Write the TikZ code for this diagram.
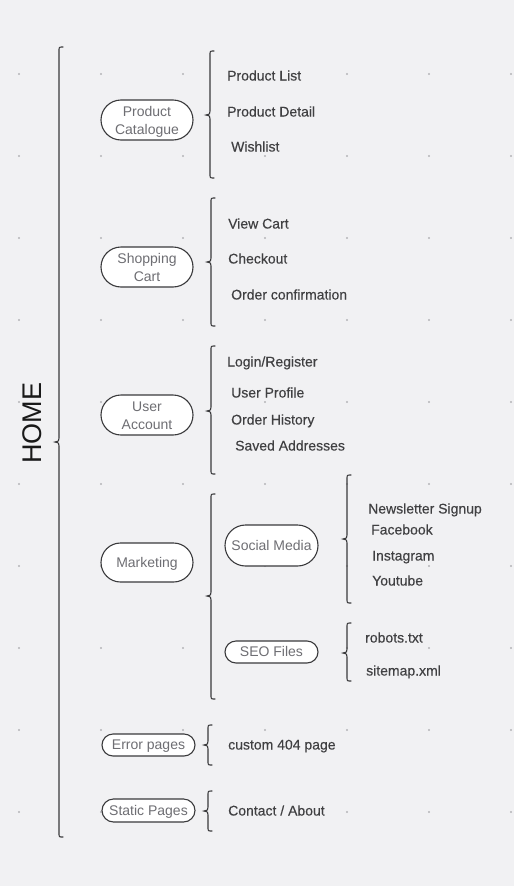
\documentclass[tikz,border=0pt]{standalone}
\usepackage{fontspec}
\setmainfont{Liberation Sans}
\newfontfamily\medfont{Liberation Sans}[FakeBold=0.3]
\definecolor{bg}{HTML}{F1F1F3}
\definecolor{dotc}{HTML}{B4B4B8}
\definecolor{edge}{HTML}{3A3A3C}
\definecolor{ntext}{HTML}{6E6E73}
\definecolor{itext}{HTML}{404042}
\newcommand\curlybr[4]{% x, top, mid, bot
  \draw[brc] (#1+4,#2) .. controls (#1,#2) .. (#1,#2+4) -- (#1,#3-4)
    .. controls (#1,#3-1) .. (#1-4,#3) .. controls (#1,#3+1) .. (#1,#3+4)
    -- (#1,#4-4) .. controls (#1,#4) .. (#1+4,#4);}
\newcommand\twolines[2]{\raisebox{-2pt}[\height][\depth]{\begin{tabular}{@{}c@{}}#1\\#2\end{tabular}}}
\begin{document}
\begin{tikzpicture}[x=1pt,y=-1pt,
  brc/.style={draw=edge,line width=1.1pt,line cap=round},
  pill/.style={draw=edge,fill=white,line width=1.1pt,text=ntext,
    font=\fontsize{14}{18}\selectfont,inner sep=0pt},
  one/.style={text height=11pt,text depth=2pt},
  item/.style={anchor=west,text=itext,font=\medfont\fontsize{14}{17}\selectfont,
    inner sep=1pt,fill=bg,text height=11pt,text depth=2pt},
  home/.style={text=black!90,font=\fontsize{27}{30}\selectfont,rotate=90}]
\fill[bg] (0,0) rectangle (514,886);
\useasboundingbox (0,0) rectangle (514,886);
\foreach \gx in {19,101,...,511} \foreach \gy in {74,156,...,812}
  \fill[dotc] (\gx,\gy) circle (1.1);

\node[home] (home) at (32,423) {HOME};
\curlybr{59}{47}{442}{837}

% Level 1 nodes
\node[pill,minimum width=92pt,minimum height=40pt,rounded corners=20pt] (pc) at (147,120) {\twolines{Product}{Catalogue}};
\node[pill,minimum width=92pt,minimum height=40pt,rounded corners=20pt] (sc) at (147,267) {\twolines{Shopping}{Cart}};
\node[pill,minimum width=92pt,minimum height=40pt,rounded corners=20pt] (ua) at (147,415) {\twolines{User}{Account}};
\node[pill,one,minimum width=92pt,minimum height=39pt,rounded corners=19.5pt] (mk) at (147,562.5) {Marketing};
\node[pill,one,minimum width=93pt,minimum height=22pt,rounded corners=11pt] (ep) at (148.5,745) {Error pages};
\node[pill,one,minimum width=93pt,minimum height=23pt,rounded corners=11.5pt] (sp) at (148.5,810.5) {Static Pages};

% Level 2 nodes
\node[pill,one,minimum width=93pt,minimum height=41pt,rounded corners=20.5pt] (sm) at (271.5,545.5) {Social Media};
\node[pill,one,minimum width=93pt,minimum height=22pt,rounded corners=11pt] (seo) at (271.5,652) {SEO Files};

% Braces
\curlybr{210}{51}{115}{178}
\curlybr{211}{198}{262}{326}
\curlybr{211}{346}{411}{474}
\curlybr{211}{494}{596}{699}
\curlybr{347}{475}{539}{603}
\curlybr{347}{623}{653}{681}
\curlybr{208}{725}{745}{765}
\curlybr{208}{791}{811}{831}

% Items
\node[item] (i1) at (226,76) {Product List};
\node[item] (i2) at (226,112) {Product Detail};
\node[item] (i3) at (230,147) {Wishlist};
\node[item] (i4) at (227,224) {View Cart};
\node[item] (i5) at (227,259) {Checkout};
\node[item] (i6) at (230,295) {Order confirmation};
\node[item] (i7) at (226,362) {Login/Register};
\node[item] (i8) at (230,393) {User Profile};
\node[item] (i9) at (230,420) {Order History};
\node[item] (i10) at (234,446) {Saved Addresses};
\node[item] (i11) at (367,509) {Newsletter Signup};
\node[item] (i12) at (370,530) {Facebook};
\node[item] (i13) at (371,556) {Instagram};
\node[item] (i14) at (371,581) {Youtube};
\node[item] (i15) at (364,638) {robots.txt};
\node[item] (i16) at (365,671) {sitemap.xml};
\node[item] (i17) at (227,745) {custom 404 page};
\node[item] (i18) at (227,811) {Contact / About};
\end{tikzpicture}
\end{document}
